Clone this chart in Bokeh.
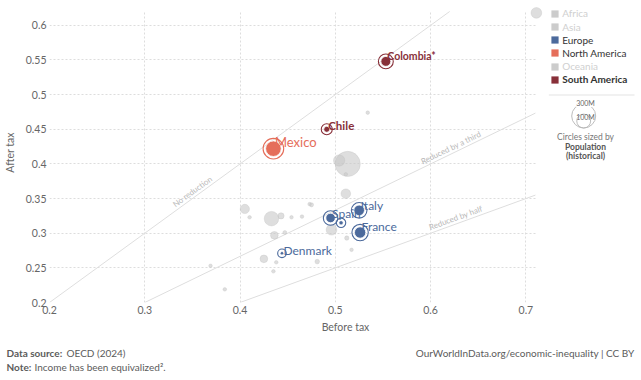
import math
import numpy as np
from bokeh.plotting import figure
from bokeh.layouts import column
from bokeh.models import (Range1d, FixedTicker, Label, Legend, LegendItem,
                          BoxAnnotation, ColumnDataSource)
from bokeh.core.properties import value
from bokeh.embed import file_html
from bokeh.resources import INLINE

# ---------------- data ----------------
# highlighted (selected) countries
hl_names = ["Colombia*", "Chile", "Mexico", "Spain", "Italy", "France", "Denmark", ""]
hl_continent = ["South America", "South America", "North America", "Europe",
                "Europe", "Europe", "Europe", "Europe"]
hl_before = [0.553, 0.491, 0.435, 0.495, 0.525, 0.526, 0.444, 0.506]
hl_after = [0.548, 0.450, 0.422, 0.322, 0.333, 0.301, 0.271, 0.315]
hl_pop = [51, 19, 127, 47, 59, 67, 6, 10]          # millions

# other (unselected, shown grey) countries
gr_before = [0.711, 0.513, 0.504, 0.534, 0.511, 0.511, 0.475, 0.496, 0.512, 0.517,
             0.405, 0.410, 0.433, 0.443, 0.454, 0.465, 0.473, 0.436, 0.447, 0.425,
             0.438, 0.435, 0.481, 0.384, 0.369]
gr_after = [0.618, 0.400, 0.405, 0.474, 0.385, 0.357, 0.341, 0.305, 0.293, 0.276,
            0.335, 0.323, 0.321, 0.325, 0.323, 0.324, 0.342, 0.297, 0.301, 0.263,
            0.258, 0.245, 0.259, 0.219, 0.253]
gr_pop = [60, 330, 67, 5, 5, 48, 9, 60, 10, 5,
          45, 5, 110, 20, 5, 5, 5, 31, 8, 31,
          5, 4, 11, 5, 4]

continents = ["Africa", "Asia", "Europe", "North America", "Oceania", "South America"]
continent_active = [False, False, True, True, False, True]

ref_names = ["No reduction", "Reduced by a third", "Reduced by half"]
ref_ratios = [1.0, 2 / 3, 0.5]

x_ticks = [0.2, 0.3, 0.4, 0.5, 0.6, 0.7]
x_tick_labels = ["0.2", "0.3", "0.4", "0.5", "0.6", "0.7"]
y_ticks = [0.2, 0.25, 0.3, 0.35, 0.4, 0.45, 0.5, 0.55, 0.6]
y_tick_labels = ["0.2", "0.25", "0.3", "0.35", "0.4", "0.45", "0.5", "0.55", "0.6"]

size_legend_pops = [300, 100]
size_legend_labels = ["300M", "100M"]

# ---------------- styles / layout ----------------
FONT = "Lato"
COLORS = {"Africa": "#A2559C", "Asia": "#00847E", "Europe": "#4C6A9C",
          "North America": "#E56E5A", "Oceania": "#9A5129", "South America": "#883039"}
FADED = "#cccccc"
LABEL_FS = {"Mexico": "13px", "Chile": "11.5px", "Colombia*": "10.5px"}
LABEL_BOLD = {"Chile", "Colombia*"}

W, H = 641, 342            # main figure
FOOT_H = 38                # footer figure
BL, BR, BT, BB = 47, 0, 2, 40
PXX, PXY = 956.0, 692.86   # px per data unit
X0, X1 = 0.2, 0.2 + (W - BL - BR) / PXX
Y0, Y1 = 0.2, 0.2 + (H - BT - BB) / PXY
Y_TOP = 0.62               # visible top of the chart area
X_RIGHT = 0.711            # visible right of the chart area
FL, FB = BL, H - BB          # frame left / bottom in page px
R300 = 12.0                # radius (px) of a 300M bubble


def dxs(px):   # page px -> data x
    return X0 + (px - FL) / PXX


def dys(py):   # page px -> data y
    return Y0 + (FB - py) / PXY


def fx(px):    # page px -> frame-relative screen x
    return px - FL


def fy(py):
    return FB - py


def radius(pop):
    return np.maximum(1.8, R300 * np.sqrt(np.asarray(pop, dtype=float) / 300.0))


p = figure(width=W, height=H, x_range=Range1d(X0, X1), y_range=Range1d(Y0, Y1),
           output_backend="svg", toolbar_location=None,
           min_border_left=BL, min_border_right=BR, min_border_top=BT, min_border_bottom=BB,
           outline_line_color=None, background_fill_color="white", border_fill_color="white")
p.frame_align = False

# axes
for ax, ticks, labels in ((p.xaxis, x_ticks, x_tick_labels), (p.yaxis, y_ticks, y_tick_labels)):
    ax.ticker = FixedTicker(ticks=ticks)
    ax.major_label_overrides = dict(zip(ticks, labels))
    ax.axis_line_color = None
    ax.major_tick_line_color = None
    ax.minor_tick_line_color = None
    ax.major_tick_out = 0
    ax.major_tick_in = 0
    ax.minor_tick_out = 0
    ax.minor_tick_in = 0
    ax.major_label_text_font = FONT
    ax.major_label_text_font_size = "10.5px"
    ax.major_label_text_color = "#666666"
    ax.axis_label_text_font = FONT
    ax.axis_label_text_font_size = "10.5px"
    ax.axis_label_text_font_style = "normal"
    ax.axis_label_text_color = "#666666"
    ax.major_label_standoff = 3
p.xaxis.bounds = (0.2, 0.745)
p.xaxis.axis_label = "Before tax"
p.xaxis.axis_label_standoff = 4
p.yaxis.bounds = (0.2, 0.61)
p.yaxis.axis_label = "After tax"
p.yaxis.axis_label_standoff = 7

p.xgrid.ticker = FixedTicker(ticks=x_ticks)
p.ygrid.ticker = FixedTicker(ticks=y_ticks)
for g in (p.xgrid, p.ygrid):
    g.grid_line_color = "#dddddd"
    g.grid_line_dash = "2 2"
    g.grid_line_width = 1

# hide grid lines outside the chart area (legend column, top strip)
p.add_layout(BoxAnnotation(left=X_RIGHT, fill_color="white", fill_alpha=1.0,
                           line_color=None, level="underlay"))
p.add_layout(BoxAnnotation(bottom=Y_TOP, fill_color="white", fill_alpha=1.0,
                           line_color=None, level="underlay"))

# reference lines
ref_label_x = [0.353, 0.6236, 0.628]
for name, ratio, lx in zip(ref_names, ref_ratios, ref_label_x):
    xs = np.array([0.2 / ratio, min(0.71, Y_TOP / ratio)])
    p.line(xs, ratio * xs, line_color="#dedede", line_width=1)
    ang = math.atan(ratio * PXY / PXX)
    p.text(x=[lx], y=[ratio * lx], text=[name], angle=ang, text_align="center",
           text_baseline="bottom", y_offset=-1, text_font=value(FONT),
           text_font_size="8px", text_color="#b8b8b8")

# grey bubbles
gr = ColumnDataSource(dict(x=gr_before, y=gr_after, s=2 * radius(gr_pop)))
p.scatter("x", "y", size="s", source=gr, fill_color="#c8c8c8", fill_alpha=0.6,
          line_color="#bcbcbc", line_alpha=0.5, line_width=0.6)

# highlighted bubbles
hr = radius(hl_pop)
hcol = [COLORS[c] for c in hl_continent]
hs = ColumnDataSource(dict(x=hl_before, y=hl_after, s=2 * hr, ring=2 * hr + 5, c=hcol))
p.scatter("x", "y", size="ring", source=hs, fill_color=None, line_color="c", line_width=1.1)
p.scatter("x", "y", size="s", source=hs, fill_color="c", line_color="white", line_width=0.8)

# labels
lab = [i for i, n in enumerate(hl_names) if n]
ls = ColumnDataSource(dict(
    x=[hl_before[i] for i in lab], y=[hl_after[i] for i in lab],
    t=[hl_names[i] for i in lab], c=[hcol[i] for i in lab],
    fs=[LABEL_FS.get(hl_names[i], "12px") for i in lab],
    fw=["bold" if hl_names[i] in LABEL_BOLD else "normal" for i in lab],
    xo=[1.5 for i in lab], yo=[-(0.75 * hr[i] + 1.3) for i in lab]))
p.text("x", "y", text="t", source=ls, text_color="c", text_font=value(FONT),
       text_font_size="fs", text_font_style="fw", x_offset="xo", y_offset="yo",
       text_align="left", text_baseline="alphabetic")

# continent legend
row0, row_step = 13.3, 13.2
for i, (name, active) in enumerate(zip(continents, continent_active)):
    col = COLORS[name] if active else FADED
    r = p.quad(left=[np.nan], right=[np.nan], top=[np.nan], bottom=[np.nan],
               fill_color=col, line_color=None)
    cy = row0 + i * row_step
    leg = Legend(items=[LegendItem(label=name, renderers=[r])],
                 location=(fx(548.2), fy(cy) - 6.5),
                 glyph_width=9, glyph_height=9, label_height=13, label_standoff=3,
                 padding=0, margin=0, spacing=0, border_line_color=None,
                 background_fill_alpha=0.0,
                 label_text_font=FONT, label_text_font_size="10px",
                 label_text_color="#333333" if active else "#cfcfcf",
                 label_text_font_style="bold" if name == "South America" else "normal")
    p.add_layout(leg)

# separator
p.segment(x0=[dxs(548)], y0=[dys(94.5)], x1=[dxs(634)], y1=[dys(94.5)],
          line_color="#e3e3e3", line_width=1)

# size legend
SL_X, SL_BOTTOM = 583, 127.5
SL_LABEL_DY = [-1.0, 3.0]      # label offset from each circle's top (px, down)
sr = radius(size_legend_pops)
p.scatter(x=[dxs(SL_X)] * 2, y=[dys(SL_BOTTOM - r) for r in sr], size=2 * sr,
          fill_color=None, line_color="#b5b5b5", line_width=0.9)
for k, (lbl, r) in enumerate(zip(size_legend_labels, sr)):
    p.add_layout(Label(x=fx(SL_X), y=fy(SL_BOTTOM - 2 * r + SL_LABEL_DY[k]),
                       x_units="screen", y_units="screen", text=lbl, text_align="center",
                       text_baseline="middle", text_font=FONT, text_font_size="7px",
                       text_color="#666666", background_fill_color="white",
                       background_fill_alpha=1.0 if k == 0 else 0.0))
for txt, py, style, colr, fs in (("Circles sized by", 136.7, "normal", "#777777", "8.5px"),
                                 ("Population", 146.2, "bold", "#555555", "8.5px"),
                                 ("(historical)", 155.5, "bold", "#555555", "8.5px")):
    p.add_layout(Label(x=fx(583), y=fy(py), x_units="screen", y_units="screen",
                       text=txt, text_align="center", text_baseline="middle",
                       text_font=FONT, text_font_size=fs, text_font_style=style,
                       text_color=colr))

# ---------------- footer (separate strip, page px coordinates) ----------------
f = figure(width=W, height=FOOT_H, x_range=Range1d(0, W), y_range=Range1d(H + FOOT_H, H),
           output_backend="svg", toolbar_location=None, x_axis_type=None, y_axis_type=None,
           min_border=0, outline_line_color=None, background_fill_color="white",
           border_fill_color="white")
f.frame_align = False
foot_text = ["Data source:", "OECD (2024)", "Note:", "Income has been equivalized².",
             "OurWorldInData.org/economic-inequality | CC BY"]
foot_x = [6, 66, 6, 34, 634]
foot_y = [352, 352, 366, 366, 352]
foot_align = ["left", "left", "left", "left", "right"]
foot_style = ["bold", "normal", "bold", "normal", "normal"]
fsrc = ColumnDataSource(dict(x=foot_x, y=foot_y, t=foot_text, a=foot_align, st=foot_style))
f.text("x", "y", text="t", source=fsrc, text_align="a", text_baseline="middle",
       text_font=value(FONT), text_font_size="10px", text_font_style="st",
       text_color="#5b5b5b")

layout = column(p, f, spacing=0)
open("out.html", "w").write(file_html(layout, INLINE))
